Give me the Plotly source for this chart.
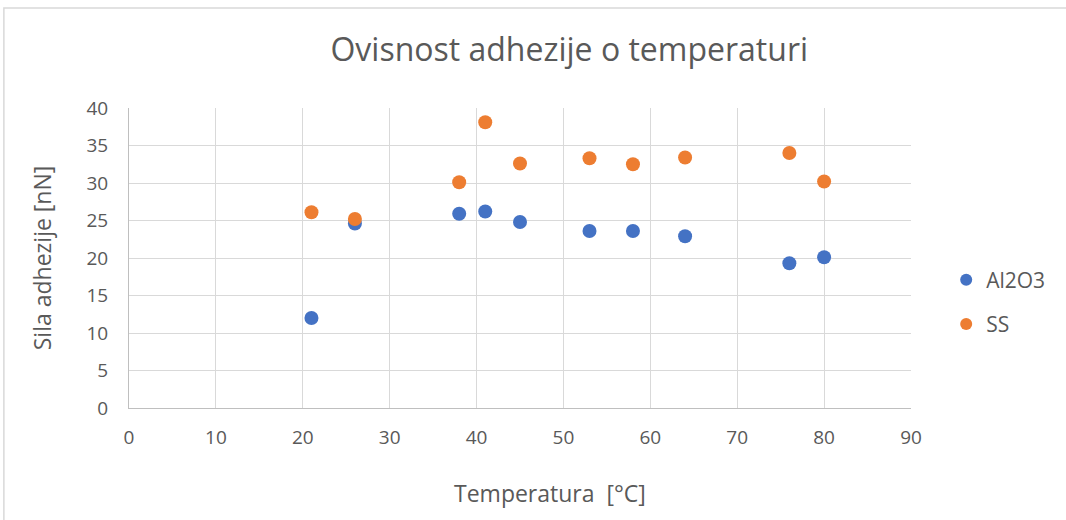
import plotly.graph_objects as go

temperature = [21, 26, 38, 41, 45, 53, 58, 64, 76, 80]
al2o3 = [12.0, 24.6, 25.9, 26.2, 24.8, 23.6, 23.6, 22.9, 19.3, 20.1]
ss = [26.1, 25.2, 30.1, 38.1, 32.6, 33.3, 32.5, 33.4, 34.0, 30.2]

x_ticks = [0, 10, 20, 30, 40, 50, 60, 70, 80, 90]
y_ticks = [0, 5, 10, 15, 20, 25, 30, 35, 40]

font_family = "Open Sans, Noto Sans, sans-serif"
text_color = "#595959"

fig = go.Figure()
fig.add_trace(go.Scatter(x=temperature, y=al2o3, mode="markers", name="Al2O3",
                         legendgroup="a",
                         marker=dict(color="#4472C4", size=14)))
fig.add_trace(go.Scatter(x=temperature, y=ss, mode="markers", name="SS",
                         legendgroup="b",
                         marker=dict(color="#ED7D31", size=14)))

fig.update_layout(
    width=1066, height=520,
    paper_bgcolor="white", plot_bgcolor="white",
    margin=dict(l=129, r=155, t=108, b=112),
    title=dict(text="Ovisnost adhezije o temperaturi", x=0.534, xanchor="center",
               y=0.904, yanchor="middle",
               font=dict(family=font_family, size=32, color=text_color)),
    font=dict(family=font_family, color=text_color),
    legend=dict(x=1.045, y=0.353, xanchor="left", yanchor="middle",
                font=dict(size=21, color=text_color), itemsizing="constant",
                tracegroupgap=14),
    showlegend=True,
    shapes=[dict(type="rect", xref="paper", yref="paper", x0=-0.16, x1=1.25,
                 y0=-0.45, y1=1.333, line=dict(color="#d9d9d9", width=1.5))],
    annotations=[dict(text="Temperatura  [°C]", xref="paper", yref="paper",
                      x=0.538, y=-0.283, xanchor="center", yanchor="middle",
                      showarrow=False, font=dict(size=23, color=text_color))],
)
fig.update_xaxes(range=[0, 90], tickvals=x_ticks, showgrid=True, gridcolor="#d9d9d9",
                 gridwidth=1, zeroline=False, showline=True, linecolor="#bfbfbf",
                 linewidth=1, mirror=False, ticks="", tickfont=dict(size=19),
                 ticklabelstandoff=12)
fig.update_yaxes(range=[0, 40], tickvals=y_ticks, showgrid=True, gridcolor="#d9d9d9",
                 gridwidth=1, zeroline=False, showline=True, linecolor="#bfbfbf",
                 linewidth=1, ticks="", tickfont=dict(size=19),
                 ticklabelstandoff=16,
                 title=dict(text="Sila adhezije [nN]", font=dict(size=23), standoff=28))

fig.write_html("out.html", config={"displayModeBar": False},
               post_script="document.body.style.margin='0';")
